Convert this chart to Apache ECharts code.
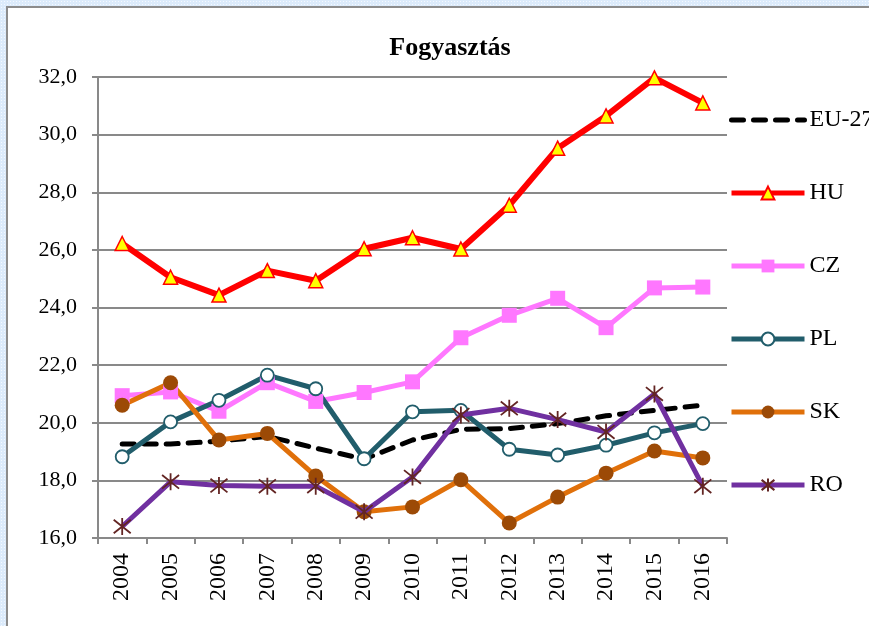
<!DOCTYPE html>
<html>
<head>
<meta charset="utf-8">
<script src="https://cdn.jsdelivr.net/npm/echarts@6/dist/echarts.min.js"></script>
<style>
    html, body { margin: 0; padding: 0; }
    body {
        width: 869px; height: 626px; overflow: hidden; position: relative;
        background-color: #dcebfb;
        background-image: radial-gradient(#f4f9ff 1px, transparent 1px);
        background-size: 3px 3px;
    }
    #frame {
        position: absolute; left: 6px; top: 6px; width: 880px; height: 640px;
        border-left: 2px solid #8c8c8c; border-top: 2px solid #8c8c8c;
        background: #fff;
    }
    #chart { position: absolute; left: 0; top: 0; width: 869px; height: 626px; }
</style>
</head>
<body>
<div id="frame"></div>
<div id="chart"></div>
<script>
// adatok
var years = ['2004', '2005', '2006', '2007', '2008', '2009', '2010', '2011', '2012', '2013', '2014', '2015', '2016'];
var eu27 = [19.26, 19.26, 19.36, 19.53, 19.12, 18.74, 19.4, 19.77, 19.8, 19.97, 20.24, 20.43, 20.61];
var hu = [26.22, 25.05, 24.43, 25.28, 24.93, 26.04, 26.42, 26.03, 27.55, 29.53, 30.65, 31.97, 31.1];
var cz = [20.94, 21.07, 20.4, 21.39, 20.74, 21.05, 21.42, 22.95, 23.73, 24.32, 23.3, 24.68, 24.71];
var pl = [18.82, 20.03, 20.78, 21.65, 21.18, 18.75, 20.38, 20.43, 19.08, 18.88, 19.22, 19.65, 19.97];
var sk = [20.61, 21.39, 19.4, 19.63, 18.15, 16.91, 17.08, 18.02, 16.52, 17.42, 18.25, 19.02, 18.78];
var ro = [16.4, 17.95, 17.82, 17.8, 17.8, 16.91, 18.12, 20.27, 20.5, 20.11, 19.68, 21.0, 17.8];

var serif = 'Liberation Serif';
var gridGray = '#898989';
var asterisk = 'path://M1,1L9,9M9,1L1,9M5,0L5,10';

var chart = echarts.init(document.getElementById('chart'));

chart.setOption({
    animation: false,
    title: {
        text: 'Fogyasztás',
        left: 445,
        top: 30,
        textAlign: 'center',
        textStyle: { fontFamily: serif, fontSize: 26, fontWeight: 'bold', color: '#000' }
    },
    legend: {
        orient: 'vertical',
        left: 724,
        top: 103,
        itemWidth: 73,
        itemHeight: 16,
        itemGap: 49,
        lineStyle: { width: 5 },
        textStyle: { fontFamily: serif, fontSize: 24, color: '#000', lineHeight: 24 },
        data: ['EU-27', 'HU', 'CZ', 'PL', 'SK', 'RO']
    },
    grid: { left: 98, right: 142, top: 77, bottom: 88 },
    xAxis: {
        type: 'category',
        data: years,
        boundaryGap: true,
        axisLine: { lineStyle: { color: gridGray, width: 2 } },
        axisTick: { show: true, length: 6, lineStyle: { color: gridGray, width: 2 } },
        axisLabel: { rotate: 90, margin: 15, fontFamily: serif, fontSize: 24, color: '#000' }
    },
    yAxis: {
        type: 'value',
        min: 16,
        max: 32,
        interval: 2,
        axisLine: { show: true, lineStyle: { color: gridGray, width: 2 } },
        axisTick: { show: true, length: 6, lineStyle: { color: gridGray, width: 2 } },
        splitLine: { lineStyle: { color: gridGray, width: 2 } },
        axisLabel: {
            margin: 21, fontFamily: serif, fontSize: 22, color: '#000',
            formatter: function (v) { return v.toFixed(1).replace('.', ','); }
        }
    },
    series: [
        {
            name: 'EU-27', type: 'line', data: eu27,
            symbol: 'circle', showSymbol: false, z: 3,
            lineStyle: { color: '#000', width: 5, type: [12, 10], cap: 'round' },
            itemStyle: { color: 'rgba(0,0,0,0)' }
        },
        {
            name: 'HU', type: 'line', data: hu,
            symbol: 'triangle', symbolSize: 14,
            lineStyle: { color: '#ff0000', width: 6 },
            itemStyle: { color: '#ffff00', borderColor: '#ff0000', borderWidth: 1.5 }
        },
        {
            name: 'CZ', type: 'line', data: cz,
            symbol: 'rect', symbolSize: 15,
            lineStyle: { color: '#ff77ff', width: 5 },
            itemStyle: { color: '#ff77ff' }
        },
        {
            name: 'PL', type: 'line', data: pl,
            symbol: 'circle', symbolSize: 13,
            lineStyle: { color: '#215d6b', width: 5 },
            itemStyle: { color: '#fff', borderColor: '#215d6b', borderWidth: 1.8 }
        },
        {
            name: 'SK', type: 'line', data: sk,
            symbol: 'circle', symbolSize: 15,
            lineStyle: { color: '#e0700a', width: 5 },
            itemStyle: { color: '#9c4a06' }
        },
        {
            name: 'RO', type: 'line', data: ro,
            symbol: asterisk, symbolSize: 17, z: 4,
            lineStyle: { color: '#7030a0', width: 5 },
            itemStyle: { color: '#632523', borderColor: '#632523', borderWidth: 1.8 }
        }
    ]
});
</script>
</body>
</html>
